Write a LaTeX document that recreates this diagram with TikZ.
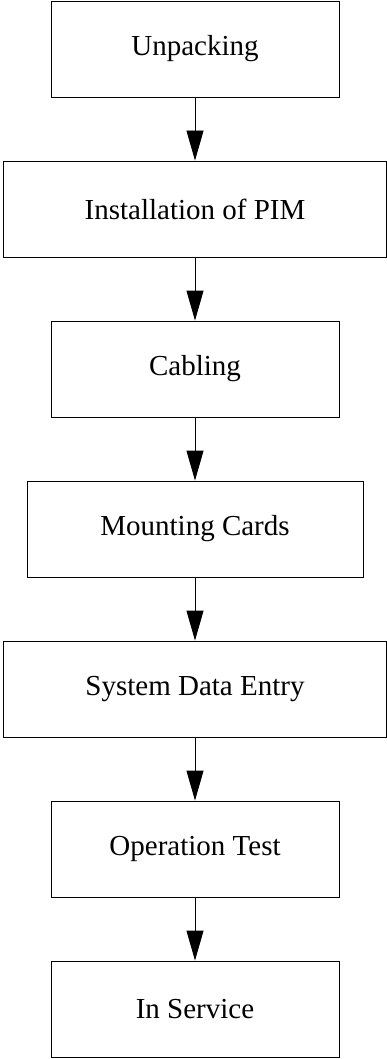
\documentclass[tikz,border=0pt]{standalone}
\usepackage{fontspec}
\setmainfont{Liberation Serif}
\usetikzlibrary{arrows.meta}

\begin{document}
\begin{tikzpicture}[
  x=1pt, y=-1pt,
  box/.style={rectangle, draw, line width=0.9pt, inner sep=0pt,
              minimum height=96pt, font=\fontsize{29}{34}\selectfont},
  narrowbox/.style={box, minimum width=288pt},
  midbox/.style={box, minimum width=336pt},
  widebox/.style={box, minimum width=383pt},
  arrow/.style={-{Triangle[length=30pt, width=17pt]}, line width=0.9pt}
]
  \useasboundingbox (0,0) rectangle (387,1059);

  \node[narrowbox] (unpack)  at (195, 49)   {Unpacking};
  \node[widebox]   (pim)     at (195, 209)  {Installation of PIM};
  \node[narrowbox] (cabl)    at (195, 369)  {Cabling};
  \node[midbox]    (cards)   at (195, 529)  {Mounting Cards};
  \node[widebox]   (sysdata) at (195, 689)  {System Data Entry};
  \node[narrowbox] (optest)  at (195, 849)  {Operation Test};
  \node[narrowbox] (service) at (195, 1009) {In Service};

  \draw[arrow] (unpack)  -- (pim);
  \draw[arrow] (pim)     -- (cabl);
  \draw[arrow] (cabl)    -- (cards);
  \draw[arrow] (cards)   -- (sysdata);
  \draw[arrow] (sysdata) -- (optest);
  \draw[arrow] (optest)  -- (service);

\end{tikzpicture}
\end{document}
